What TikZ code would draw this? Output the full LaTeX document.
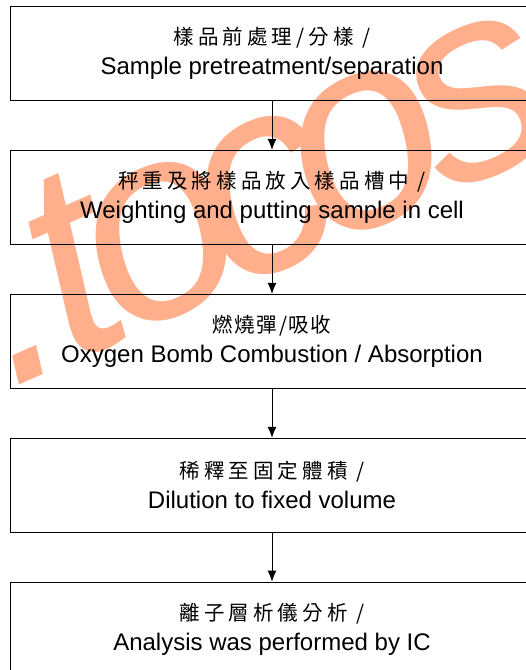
\documentclass[tikz,border=0pt]{standalone}
\usepackage{fontspec}
\setmainfont{Liberation Sans}
\newfontfamily\cjk[LetterSpace=20]{Noto Sans CJK TC}
\newfontfamily\cjktight[LetterSpace=8]{Noto Sans CJK TC}
\usetikzlibrary{positioning,arrows.meta}
\definecolor{markorange}{RGB}{255,175,140}

\begin{document}
\begin{tikzpicture}[x=1pt,y=-1pt,node distance=49pt,
  stepbox/.style={draw,line width=0.9pt,minimum width=524pt,minimum height=94pt,
    inner sep=0pt,align=center,font=\fontsize{24}{30}\selectfont},
  watermark/.style={anchor=base west,rotate=24,inner sep=0pt,text=markorange,
    font=\fontsize{275}{275}\selectfont\itshape},
  flow/.style={line width=0.9pt,-{Latex[length=11pt,width=9pt]}}]
\useasboundingbox (0,0) rectangle (526,670);
\clip (0,0) rectangle (526,670);
\node[watermark] (wm) at (9,390) {.\kern-8pt t\kern-22pt o\kern-33pt c\kern-33pt o\kern-22pt s}; % edit here for the watermark
% the five steps
\node[stepbox] (prep) at (272,53.5) {{\cjk\fontsize{20.5}{20}\selectfont 樣品前處理/分樣 /}\\Sample pretreatment/separation};
\node[stepbox,below=of prep] (weigh) {{\cjk\fontsize{20.5}{20}\selectfont 秤重及將樣品放入樣品槽中 /}\\Weighting and putting sample in cell};
\node[stepbox,below=of weigh] (bomb) {{\cjktight\fontsize{20.5}{20}\selectfont 燃燒彈/吸收}\\Oxygen Bomb Combustion / Absorption};
\node[stepbox,below=of bomb] (dilute) {{\cjk\fontsize{20.5}{20}\selectfont 稀釋至固定體積 /}\\Dilution to fixed volume};
\node[stepbox,below=of dilute] (ic) {{\cjk\fontsize{20.5}{20}\selectfont 離子層析儀分析 /}\\Analysis was performed by IC};
\draw[flow] (prep) -- (weigh);
\draw[flow] (weigh) -- (bomb);
\draw[flow] (bomb) -- (dilute);
\draw[flow] (dilute) -- (ic);
\end{tikzpicture}
\end{document}
